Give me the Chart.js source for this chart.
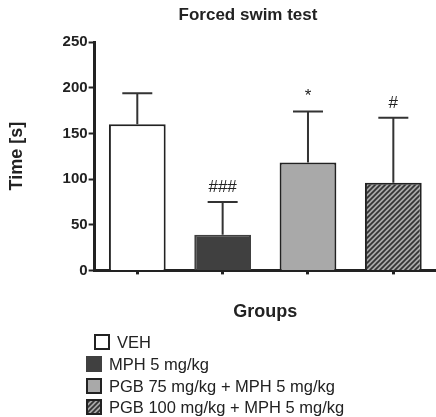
<!DOCTYPE html>
<html>
<head>
<meta charset="utf-8">
<script src="https://cdn.jsdelivr.net/npm/chart.js@4.4.0/dist/chart.umd.min.js"></script>
<style>
  body { margin: 0; background: #fff; }
  #box { width: 436px; height: 417px; }
</style>
</head>
<body>
<div id="box"><canvas id="fstChart"></canvas></div>
<script>
// Forced swim test - tiempo de inmovilidad
const titulo = "Forced swim test";
const grupos = [
  "VEH",
  "MPH 5 mg/kg",
  "PGB 75 mg/kg + MPH 5 mg/kg",
  "PGB 100 mg/kg + MPH 5 mg/kg",
];

const medias = [160, 39, 118, 96];
const errores = [34, 36, 56, 71];
const marcas = ["", "###", "*", "#"];
const yTicks = [0, 50, 100, 150, 200, 250];

const tinta = "#222";

function rayado() {
  const c = document.createElement("canvas");
  c.width = 5;
  c.height = 5;
  const g = c.getContext("2d");
  g.fillStyle = "#a8a8a8";
  g.fillRect(0, 0, 5, 5);
  g.strokeStyle = "#333";
  g.lineWidth = 1.7;
  g.beginPath();
  g.moveTo(-1, 6);
  g.lineTo(6, -1);
  g.moveTo(-1, 1);
  g.lineTo(1, -1);
  g.moveTo(4, 6);
  g.lineTo(6, 4);
  g.stroke();
  return g.createPattern(c, "repeat");
}

// barras de error (solo hacia arriba) y marcas de significancia
const erroresPlugin = {
  id: "errores",
  afterDatasetsDraw(chart) {
    const ctx = chart.ctx;
    const y = chart.scales.y;
    const bars = chart.getDatasetMeta(0).data;
    ctx.save();
    ctx.strokeStyle = "#333";
    ctx.lineWidth = 2;
    bars.forEach((bar, i) => {
      const top = y.getPixelForValue(medias[i] + errores[i]);
      ctx.beginPath();
      ctx.moveTo(bar.x, bar.y);
      ctx.lineTo(bar.x, top);
      ctx.moveTo(bar.x - 15, top);
      ctx.lineTo(bar.x + 15, top);
      ctx.stroke();
      if (marcas[i]) {
        ctx.fillStyle = tinta;
        ctx.font = "17px 'Liberation Sans', Arial, sans-serif";
        ctx.textAlign = "center";
        ctx.textBaseline = "alphabetic";
        ctx.fillText(marcas[i], bar.x, top - 10);
      }
    });
    ctx.restore();
  },
};

// titulo (desplazado sobre el area de barras) y leyenda en columna
const textosPlugin = {
  id: "textos",
  afterDraw(chart) {
    const ctx = chart.ctx;
    const colores = chart.data.datasets[0].backgroundColor;
    const filas = [342, 364, 386, 407];
    ctx.save();
    ctx.fillStyle = tinta;
    ctx.font = "bold 17px 'Liberation Sans', Arial, sans-serif";
    ctx.textAlign = "center";
    ctx.textBaseline = "middle";
    ctx.fillText(titulo, 248, 15);

    ctx.font = "16.5px 'Liberation Sans', Arial, sans-serif";
    ctx.textAlign = "left";
    grupos.forEach((g, i) => {
      const bx = i === 0 ? 95 : 87;
      const cy = filas[i];
      ctx.fillStyle = colores[i];
      ctx.fillRect(bx, cy - 7, 14, 14);
      ctx.strokeStyle = i === 1 ? "#404040" : tinta;
      ctx.lineWidth = 2;
      ctx.strokeRect(bx, cy - 7, 14, 14);
      ctx.fillStyle = tinta;
      ctx.fillText(g, bx + 22, cy + 1);
    });
    ctx.restore();
  },
};

document.addEventListener("DOMContentLoaded", function () {
  Chart.defaults.font.family = "'Liberation Sans', Arial, sans-serif";
  Chart.defaults.color = tinta;

  const ctx = document.getElementById("fstChart").getContext("2d");

  new Chart(ctx, {
    type: "bar",
    data: {
      labels: grupos,
      datasets: [
        {
          data: medias,
          backgroundColor: ["#ffffff", "#404040", "#a9a9a9", rayado()],
          borderColor: [tinta, "#404040", tinta, tinta],
          borderWidth: 2,
          barPercentage: 0.665,
          categoryPercentage: 1,
        },
      ],
    },
    options: {
      responsive: true,
      maintainAspectRatio: false,
      animation: false,
      layout: {
        padding: { left: 0, right: 0, top: 42, bottom: 94 },
      },
      plugins: {
        legend: { display: false },
        tooltip: { enabled: false },
        title: { display: false },
      },
      scales: {
        x: {
          offset: true,
          grid: {
            offset: false,
            drawOnChartArea: false,
            tickLength: 4,
            tickWidth: 3,
            tickColor: tinta,
          },
          border: { width: 3, color: tinta },
          ticks: { display: false },
          title: {
            display: true,
            text: "Groups",
            color: tinta,
            font: { size: 18, weight: "bold" },
            padding: { top: 27, bottom: 0 },
          },
        },
        y: {
          min: 0,
          max: 250,
          afterBuildTicks: (axis) => {
            axis.ticks = yTicks.map((v) => ({ value: v }));
          },
          grid: {
            drawOnChartArea: false,
            tickLength: 6,
            tickWidth: 2,
            tickColor: tinta,
          },
          border: { width: 3, color: tinta },
          ticks: {
            color: tinta,
            padding: 1,
            font: { size: 15, weight: "bold" },
          },
          title: {
            display: true,
            text: "Time [s]",
            color: tinta,
            font: { size: 18, weight: "bold" },
            padding: { top: 6, bottom: 34 },
          },
        },
      },
    },
    plugins: [erroresPlugin, textosPlugin],
  });
});
</script>
</body>
</html>
